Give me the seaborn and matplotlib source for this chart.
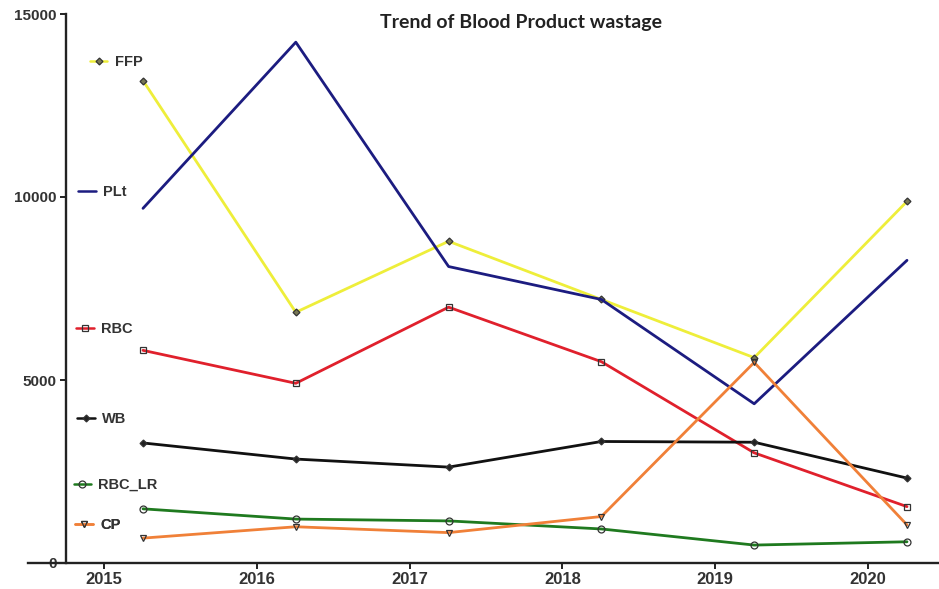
import matplotlib
matplotlib.use("Agg")
import matplotlib.pyplot as plt
import seaborn as sns
import pandas as pd
from matplotlib.lines import Line2D

# ---- data ----
years = [2015, 2016, 2017, 2018, 2019, 2020]
series_names = ["FFP", "PLt", "RBC", "WB", "RBC_LR", "CP"]
ffp = [13180, 6850, 8790, 7200, 5610, 9880]
plt_vals = [9690, 14230, 8100, 7200, 4350, 8270]
rbc = [5810, 4910, 6990, 5500, 3010, 1540]
wb = [3280, 2840, 2620, 3320, 3300, 2320]
rbc_lr = [1480, 1200, 1150, 930, 490, 580]
cp = [680, 990, 830, 1270, 5480, 1040]
y_ticks = [0, 5000, 10000, 15000]
title = "Trend of Blood Product wastage"

values = [ffp, plt_vals, rbc, wb, rbc_lr, cp]
df = pd.DataFrame(
    [(y, name, v) for name, vals in zip(series_names, values) for y, v in zip(years, vals)],
    columns=["Year", "Product", "Wastage"],
)

# ---- styles ----
colors = {"FFP": "#eeee3a", "PLt": "#1c1c80", "RBC": "#e0202c",
          "WB": "#111111", "RBC_LR": "#1f7a1f", "CP": "#f08038"}
markers = {"FFP": "D", "PLt": "", "RBC": "s", "WB": "D", "RBC_LR": "o", "CP": "v"}
msizes = {"FFP": 3.5, "PLt": 0, "RBC": 4.5, "WB": 3.5, "RBC_LR": 5, "CP": 5}
mfaces = {"FFP": "#777755", "PLt": "none", "RBC": "none", "WB": "#222222",
          "RBC_LR": "none", "CP": "none"}
# legend layout (axes fraction: handle left x, centre y)
legend_pos = {"FFP": (0.068, 0.913), "PLt": (0.055, 0.676), "RBC": (0.053, 0.426),
              "WB": (0.054, 0.262), "RBC_LR": (0.050, 0.142), "CP": (0.052, 0.069)}

sns.set_theme(style="ticks")
plt.rcParams["font.family"] = ["Liberation Sans", "DejaVu Sans"]

fig = plt.figure(figsize=(9.39, 5.89), dpi=100)
ax = fig.add_axes([28 / 939, 1 - 563 / 589, (938 - 28) / 939, (563 - 14) / 589])

sns.lineplot(data=df, x="Year", y="Wastage", hue="Product", palette=colors,
             hue_order=series_names, legend=False, ax=ax, linewidth=2.0,
             sort=False, estimator=None)

for line, name in zip(ax.get_lines(), series_names):
    m = markers[name]
    if m:
        line.set_marker(m)
        line.set_markersize(msizes[name])
        line.set_markerfacecolor(mfaces[name])
        line.set_markeredgecolor("#333333")
        line.set_markeredgewidth(0.9)

# axes limits / spines
px_per_year = 152.8
ax.set_xlim(2015 - 115 / px_per_year, 2015 + 795 / px_per_year)
ax.set_ylim(0, 15000)
ax.spines["left"].set_position(("data", 2015 - 77 / px_per_year))
ax.spines["right"].set_visible(False)
ax.spines["top"].set_visible(False)
for s in ("left", "bottom"):
    ax.spines[s].set_linewidth(1.7)
    ax.spines[s].set_color("#222222")

tick_offset = 39 / px_per_year
ax.set_xticks([y - tick_offset for y in years])
ax.set_xticklabels([str(y) for y in years], fontsize=12, fontweight="bold", color="#333333")
ax.set_yticks(y_ticks)
ax.set_yticklabels([str(t) for t in y_ticks], fontsize=11, fontweight="bold", color="#333333")
ax.tick_params(axis="both", direction="out", length=4.5, width=1.4, color="#222222", pad=2)
ax.set_xlabel("")
ax.set_ylabel("")
ax.grid(False)

ax.text(0.542, 0.985, title, transform=ax.transAxes, ha="center", va="center",
        fontsize=14, fontweight="bold", family=["Lato", "DejaVu Sans"], color="#222222")

# scattered legend entries
for name in series_names:
    h = Line2D([], [], color=colors[name], lw=1.8,
               marker=markers[name] if markers[name] else None,
               markersize=msizes[name] if markers[name] else 0,
               markerfacecolor=mfaces[name], markeredgecolor="#333333", markeredgewidth=0.9)
    leg = ax.legend(handles=[h], labels=[name], loc="center left",
                    bbox_to_anchor=legend_pos[name], bbox_transform=ax.transAxes,
                    frameon=False, borderpad=0, borderaxespad=0, handlelength=1.2,
                    handletextpad=0.5, prop={"size": 10.5, "weight": "bold", "family": "Liberation Sans"})
    for t in leg.get_texts():
        t.set_color("#333333")
    ax.add_artist(leg)

fig.savefig("out.png", dpi=100)
